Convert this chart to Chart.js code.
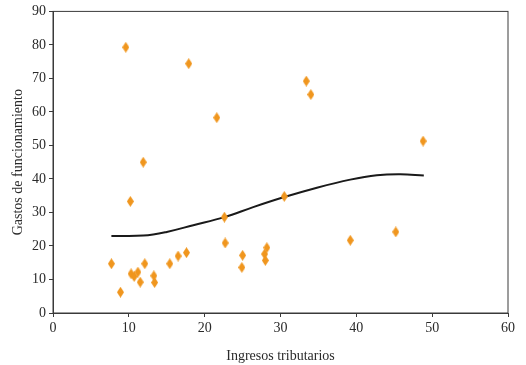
<!DOCTYPE html>
<html>
<head>
<meta charset="utf-8">
<script src="https://cdn.jsdelivr.net/npm/chart.js@4/dist/chart.umd.min.js"></script>
<style>
  html, body { margin: 0; padding: 0; background: #fff; }
  #wrap { width: 526px; height: 365px; }
</style>
</head>
<body>
<div id="wrap"><canvas id="chart" width="526" height="365"></canvas></div>
<script>
const ingresos = [7.7, 8.9, 9.6, 10.2, 10.3, 10.7, 11.2, 11.5, 12.1, 11.9,
  13.3, 13.4, 15.4, 16.5, 17.6, 17.9, 21.6, 22.6, 22.7, 25.0,
  24.9, 27.9, 28.2, 28.0, 30.5, 33.4, 34.0, 39.2, 45.2, 48.8];
const gastos = [14.7, 6.2, 79.3, 33.3, 11.7, 10.9, 12.2, 9.2, 14.7, 45.0,
  11.1, 9.1, 14.7, 17.0, 18.0, 74.4, 58.3, 28.6, 20.9, 17.2,
  13.6, 17.6, 19.5, 15.7, 34.8, 69.2, 65.2, 21.7, 24.2, 51.3];

// fitted curve
const curveX = [7.7, 11.9, 15.0, 18.5, 22.6, 26.4, 30.5, 34.8, 39.2, 42.7, 45.8, 48.9];
const curveY = [23.0, 23.1, 24.2, 26.2, 28.6, 31.6, 34.6, 37.4, 39.8, 41.1, 41.4, 41.0];

const xTitle = 'Ingresos tributarios';
const yTitle = 'Gastos de funcionamiento';

const axisColor = '#3a3a3a';
const textColor = '#2a2a2a';
const orange = 'rgb(240,150,30)';
const fontFamily = '"Liberation Serif", "DejaVu Serif", serif';

// tall diamond marker
function diamond() {
  let c = document.createElement('canvas');
  c.width = 7;
  c.height = 11;
  let ctx = c.getContext('2d');
  ctx.fillStyle = orange;
  ctx.beginPath();
  ctx.moveTo(3.5, 0);
  ctx.lineTo(7, 5.5);
  ctx.lineTo(3.5, 11);
  ctx.lineTo(0, 5.5);
  ctx.closePath();
  ctx.fill();
  return c;
}

// box around the plot area
const frame = {
  id: 'frame',
  beforeDatasetsDraw(chart) {
    let {ctx, chartArea: a} = chart;
    ctx.save();
    ctx.strokeStyle = axisColor;
    ctx.lineWidth = 1;
    ctx.strokeRect(a.left, a.top, a.right - a.left, a.bottom - a.top);
    ctx.restore();
  }
};

const axisBase = {
  type: 'linear',
  min: 0,
  border: { display: true, color: axisColor, width: 1 },
  grid: { display: true, drawOnChartArea: false, drawTicks: true, tickLength: 4, tickColor: axisColor },
};

new Chart(document.getElementById('chart'), {
  data: {
    datasets: [
      {
        type: 'scatter',
        order: 0,
        data: ingresos.map((x, i) => ({ x, y: gastos[i] })),
        pointStyle: diamond(),
        pointRadius: 5,
        pointHoverRadius: 5,
      },
      {
        type: 'line',
        order: 1,
        data: curveX.map((x, i) => ({ x, y: curveY[i] })),
        borderColor: '#1a1a1a',
        borderWidth: 2,
        pointRadius: 0,
        fill: false,
        tension: 0.4,
      }
    ]
  },
  options: {
    responsive: false,
    animation: false,
    layout: { padding: { top: 11, right: 18, bottom: 0, left: 0 } },
    plugins: { legend: { display: false }, tooltip: { enabled: false } },
    scales: {
      x: {
        ...axisBase,
        max: 60,
        ticks: { stepSize: 10, color: textColor, padding: 3, font: { family: fontFamily, size: 14 } },
        title: { display: true, text: xTitle, color: textColor, padding: { top: 12, bottom: 0 }, font: { family: fontFamily, size: 14 } },
        afterFit(scale) { scale.height = 52; }
      },
      y: {
        ...axisBase,
        max: 90,
        ticks: { stepSize: 10, color: textColor, padding: 3, font: { family: fontFamily, size: 14 } },
        title: { display: true, text: yTitle, color: textColor, padding: { top: 10, bottom: 0 }, font: { family: fontFamily, size: 14 } },
        afterFit(scale) { scale.width = 53; }
      }
    }
  },
  plugins: [frame]
});
</script>
</body>
</html>
